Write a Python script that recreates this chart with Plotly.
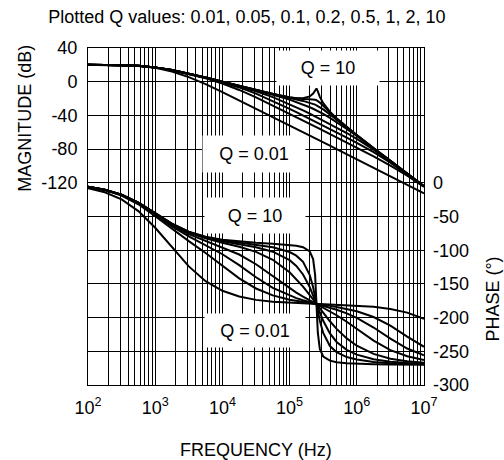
"""Bode plot: magnitude and phase for a set of Q values, one black line each."""

import plotly.graph_objects as go

FREQ_HZ = [100, 178, 316, 562, 1000, 1778, 3162, 5623, 10000, 17783, 31623, 56234,
           100000, 125893, 158489, 199526, 223872, 239883, 251189, 263027, 281838,
           316228, 398107, 501187, 707946, 1000000, 1778279, 3162278, 5623413, 10000000]

Q_VALUES = [0.01, 0.05, 0.1, 0.2, 0.5, 1, 2, 10]

MAG_Q001 = [20.0, 19.8, 19.5, 18.6, 16.4, 12.0, 5.5, -2.9, -12.3, -22.1, -32.0, -42.0, -52.0, -56.0, -60.0,
            -64.0, -66.0, -67.2, -68.0, -68.8, -70.0, -72.0, -76.0, -80.0, -86.0, -92.0, -102.0, -112.1, -122.2, -132.6]
MAG_Q005 = [20.0, 19.9, 19.6, 18.8, 17.0, 13.7, 9.3, 4.1, -2.2, -9.8, -18.6, -28.2, -38.1, -42.1, -46.0,
            -50.0, -52.0, -53.2, -54.0, -54.8, -56.0, -58.0, -62.0, -66.0, -72.1, -78.2, -88.5, -99.5, -111.5, -125.0]
MAG_Q01 = [20.0, 19.9, 19.6, 18.8, 17.0, 13.8, 9.5, 4.7, -0.7, -6.8, -14.1, -22.7, -32.2, -36.1, -40.0,
           -44.0, -46.0, -47.2, -48.0, -48.8, -50.0, -52.0, -56.0, -60.1, -66.3, -72.6, -83.7, -96.1, -109.8, -124.3]
MAG_Q02 = [20.0, 19.9, 19.6, 18.8, 17.0, 13.8, 9.6, 4.8, -0.2, -5.5, -11.4, -18.3, -26.7, -30.4, -34.1,
           -38.0, -40.0, -41.2, -42.0, -42.8, -44.0, -46.0, -50.1, -54.4, -60.9, -67.9, -80.6, -94.6, -109.2, -124.1]
MAG_Q05 = [20.0, 19.9, 19.6, 18.8, 17.0, 13.8, 9.6, 4.9, -0.1, -5.1, -10.1, -15.4, -21.3, -24.0, -26.9,
           -30.3, -32.1, -33.2, -34.0, -34.8, -36.1, -38.3, -42.9, -48.0, -56.0, -64.5, -79.2, -94.1, -109.0, -124.0]
MAG_Q1 = [20.0, 19.9, 19.6, 18.8, 17.0, 13.8, 9.6, 4.9, 0.0, -5.0, -9.9, -14.8, -19.4, -21.1, -22.8,
          -24.9, -26.2, -27.2, -28.0, -28.8, -30.2, -32.9, -38.8, -45.1, -54.5, -63.7, -78.9, -94.0, -109.0, -124.0]
MAG_Q2 = [20.0, 19.9, 19.6, 18.8, 17.0, 13.8, 9.6, 4.9, 0.0, -5.0, -9.9, -14.6, -18.7, -20.0, -20.6,
          -20.7, -20.8, -21.3, -22.0, -22.9, -24.8, -28.7, -36.7, -44.0, -54.0, -63.5, -78.9, -94.0, -109.0, -124.0]
MAG_Q10 = [20.0, 19.9, 19.6, 18.8, 17.0, 13.8, 9.6, 4.9, 0.0, -5.0, -9.9, -14.6, -18.5, -19.5, -19.6,
           -17.5, -14.0, -9.9, -8.0, -11.5, -18.0, -25.5, -35.6, -43.5, -53.8, -63.4, -78.8, -94.0, -109.0, -124.0]

PH_Q001 = [-8.0, -14.1, -24.7, -42.0, -66.7, -95.9, -124.0, -145.9, -160.2, -168.8, -173.7, -176.6, -178.2, -178.7, -179.1,
           -179.4, -179.6, -179.7, -179.8, -179.8, -179.9, -180.1, -180.4, -180.8, -181.3, -182.1, -183.9, -187.1, -192.6, -201.7]
PH_Q005 = [-6.2, -10.9, -19.0, -31.9, -49.6, -68.7, -86.6, -104.1, -122.9, -141.7, -156.8, -167.0, -173.4, -175.3, -176.9,
           -178.4, -179.1, -179.5, -179.8, -180.0, -180.5, -181.2, -182.6, -184.2, -186.9, -190.5, -199.1, -212.0, -228.2, -243.3]
PH_Q01 = [-5.9, -10.5, -18.3, -30.6, -47.3, -64.7, -79.6, -92.5, -106.0, -122.2, -140.2, -156.0, -167.5, -171.1, -174.2,
          -177.1, -178.4, -179.2, -179.8, -180.3, -181.1, -182.5, -185.3, -188.4, -193.8, -200.4, -214.7, -231.3, -245.9, -255.9]
PH_Q02 = [-5.8, -10.3, -17.9, -30.0, -46.1, -62.7, -76.1, -86.3, -95.6, -106.4, -120.8, -138.7, -156.5, -162.9, -168.8,
          -174.4, -177.1, -178.7, -179.8, -180.8, -182.4, -185.1, -190.7, -196.5, -206.2, -216.7, -234.2, -248.2, -257.4, -262.8]
PH_Q05 = [-5.8, -10.2, -17.7, -29.6, -45.5, -61.5, -73.9, -82.5, -88.9, -94.9, -102.5, -114.2, -132.8, -142.8, -154.1,
          -166.6, -173.1, -177.1, -179.8, -182.4, -186.4, -192.9, -205.4, -216.7, -230.8, -241.7, -253.9, -260.9, -264.9, -267.1]
PH_Q1 = [-5.7, -10.1, -17.6, -29.5, -45.2, -61.1, -73.2, -81.2, -86.6, -90.9, -95.5, -102.2, -114.8, -123.4, -136.0,
         -154.8, -166.8, -174.5, -179.8, -185.0, -192.8, -204.7, -223.5, -236.1, -247.8, -254.9, -261.8, -265.4, -267.4, -268.6]
PH_Q2 = [-5.7, -10.1, -17.6, -29.4, -45.1, -60.8, -72.8, -80.6, -85.4, -88.8, -91.9, -95.7, -102.7, -108.1, -117.3,
         -136.8, -155.0, -169.3, -179.8, -190.2, -204.6, -222.7, -242.2, -251.4, -258.5, -262.3, -265.9, -267.7, -268.7, -269.3]
PH_Q10 = [-5.7, -10.1, -17.6, -29.4, -45.0, -60.7, -72.5, -80.1, -84.5, -87.2, -88.9, -90.3, -92.1, -93.4, -95.6,
          -101.9, -113.2, -137.1, -179.8, -222.4, -246.4, -257.7, -263.9, -266.1, -267.6, -268.4, -269.1, -269.5, -269.7, -269.9]

MAGNITUDES = [MAG_Q001, MAG_Q005, MAG_Q01, MAG_Q02, MAG_Q05, MAG_Q1, MAG_Q2, MAG_Q10]
PHASES = [PH_Q001, PH_Q005, PH_Q01, PH_Q02, PH_Q05, PH_Q1, PH_Q2, PH_Q10]

# log grid: every 1..9 x decade, only the decades get a label
X_TICKVALS = [k * 10 ** d for d in range(2, 7) for k in range(1, 10)] + [10 ** 7]
X_TICKTEXT = [f"10<sup>{d}</sup>" if k == 1 else "" for d in range(2, 7) for k in range(1, 10)] + ["10<sup>7</sup>"]

MAG_TICKVALS = [40, 0, -40, -80, -120, -160, -200, -240, -280, -320, -360]
MAG_TICKTEXT = ["40", "0", "-40", "-80", "-120", "", "", "", "", "", ""]
PHASE_TICKVALS = [0, -50, -100, -150, -200, -250, -300]
PHASE_TICKTEXT = ["0", "-50", "-100", "-150", "-200", "-250", "-300"]

INK = "#000000"
FONT = "Liberation Sans, Arial, sans-serif"

fig = go.Figure()
for q, mag, ph in zip(Q_VALUES, MAGNITUDES, PHASES):
    fig.add_trace(go.Scatter(x=FREQ_HZ, y=mag, mode="lines", line=dict(color=INK, width=2),
                             name=f"|H| Q={q}", yaxis="y"))
    fig.add_trace(go.Scatter(x=FREQ_HZ, y=ph, mode="lines", line=dict(color=INK, width=2),
                             name=f"phase Q={q}", yaxis="y2"))

# white label boxes that punch through the grid
box_labels = [
    dict(text="Q = 10", x=5.578, y=15.8, yref="y", width=100, height=32),
    dict(text="Q = 0.01", x=4.471, y=-86.0, yref="y", width=100, height=34),
    dict(text="Q = 10", x=4.486, y=-49.0, yref="y2", width=98, height=33),
    dict(text="Q = 0.01", x=4.486, y=-219.0, yref="y2", width=98, height=31),
]
for b in box_labels:
    fig.add_annotation(text=b["text"], x=b["x"], y=b["y"], xref="x", yref=b["yref"],
                       showarrow=False, bgcolor="white", width=b["width"], height=b["height"],
                       font=dict(size=18, color=INK))

fig.add_annotation(text="MAGNITUDE (dB)", textangle=-90, x=-0.1875, y=-44, xref="paper", yref="y",
                   xanchor="center", yanchor="middle", showarrow=False, font=dict(size=18, color=INK))
fig.add_annotation(text="PHASE (°)", textangle=-90, x=1.205, y=-172, xref="paper", yref="y2",
                   xanchor="center", yanchor="middle", showarrow=False, font=dict(size=18, color=INK))
fig.add_annotation(text="FREQUENCY (Hz)", x=0.5, y=-0.192, xref="paper", yref="paper",
                   xanchor="center", yanchor="middle", showarrow=False, font=dict(size=18, color=INK))

fig.update_layout(
    width=504,
    height=460,
    margin=dict(l=88, r=80, t=48, b=75),
    paper_bgcolor="white",
    plot_bgcolor="white",
    showlegend=False,
    font=dict(family=FONT, size=18, color=INK),
    title=dict(text="Plotted Q values: 0.01, 0.05, 0.1, 0.2, 0.5, 1, 2, 10", x=0.49, xanchor="center",
               y=0.963, yanchor="middle", font=dict(size=18, color=INK)),
    xaxis=dict(type="log", range=[2, 7], tickvals=X_TICKVALS, ticktext=X_TICKTEXT,
               showgrid=True, gridcolor=INK, gridwidth=1, zeroline=False,
               showline=True, linecolor=INK, linewidth=1, mirror=True, ticks="",
               ticklabelstandoff=6, tickfont=dict(size=18, color=INK)),
    yaxis=dict(range=[-360, 40], tickvals=MAG_TICKVALS, ticktext=MAG_TICKTEXT,
               showgrid=True, gridcolor=INK, gridwidth=1, zeroline=False,
               showline=True, linecolor=INK, linewidth=1, mirror=True, ticks="",
               ticklabelstandoff=6, tickfont=dict(size=18, color=INK)),
    yaxis2=dict(range=[-300, 200], overlaying="y", side="right", tickvals=PHASE_TICKVALS,
                ticktext=PHASE_TICKTEXT, showgrid=False, zeroline=False, ticks="",
                ticklabelstandoff=8, tickfont=dict(size=18, color=INK)),
)

# the page's default body margin would push the figure 8px in; drop it
fig.write_html("out.html", config={"displayModeBar": False},
               post_script="document.body.style.margin = '0';")
